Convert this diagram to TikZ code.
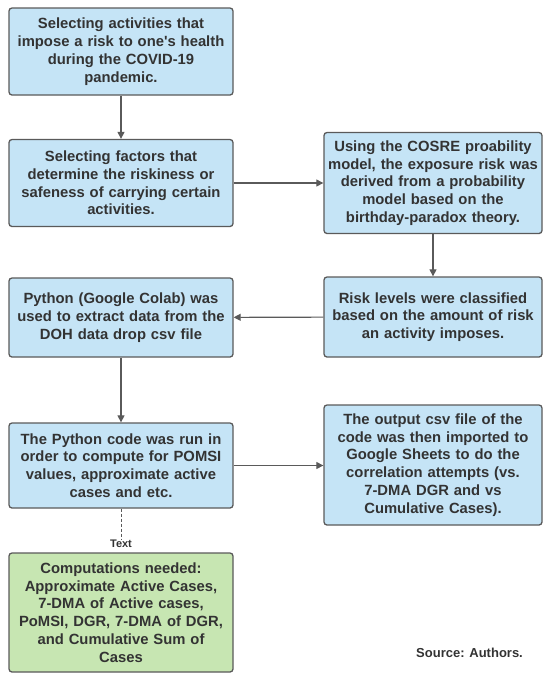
\documentclass[tikz,border=0pt]{standalone}
\usepackage{fontspec}
\setmainfont{Liberation Sans}
\usetikzlibrary{arrows.meta}
\definecolor{boxblue}{HTML}{C5E4F6}
\definecolor{boxgreen}{HTML}{C7E6B2}
\definecolor{edgegray}{HTML}{5A5A5A}
\definecolor{txtgray}{HTML}{333333}
\tikzset{
  flowbox/.style={draw=edgegray, line width=1.3pt, rounded corners=3pt, fill=boxblue,
    align=center, text=txtgray, inner sep=1pt,
    font=\fontsize{14.8pt}{17.8pt}\selectfont\bfseries},
  greenbox/.style={flowbox, fill=boxgreen},
  flowarrow/.style={draw=edgegray, line width=1.1pt, -{Triangle[length=7pt,width=7pt]}},
}
\begin{document}
\begin{tikzpicture}[x=1pt,y=-1pt]
\useasboundingbox (0,0) rectangle (545,673);
\node[flowbox, minimum width=224pt, minimum height=87pt, text width=220pt] (b1) at (121,51.5)
  {Selecting activities that\\impose a risk to one\textquotesingle s health\\during the COVID-19\\pandemic.};
\node[flowbox, minimum width=224pt, minimum height=87pt, text width=220pt] (b2) at (121,183)
  {Selecting factors that\\determine the riskiness or\\safeness of carrying certain\\activities.};
\node[flowbox, minimum width=218pt, minimum height=101pt, text width=214pt] (b3) at (433,183)
  {Using the COSRE proability\\model, the exposure risk was\\derived from a probability\\model based on the\\birthday-paradox theory.};
\node[flowbox, minimum width=224pt, minimum height=79pt, text width=220pt] (b4) at (121,317.5)
  {Python (Google Colab) was\\used to extract data from the\\DOH data drop csv file};
\node[flowbox, minimum width=218pt, minimum height=80pt, text width=214pt] (b5) at (433,317)
  {Risk levels were classified\\based on the amount of risk\\an activity imposes.};
\node[flowbox, minimum width=224pt, minimum height=85pt, text width=220pt] (b6) at (121,465.5)
  {The Python code was run in\\order to compute for POMSI\\values, approximate active\\cases and etc.};
\node[flowbox, minimum width=218pt, minimum height=120pt, text width=214pt] (b7) at (433,465)
  {The output csv file of the\\code was then imported to\\Google Sheets to do the\\correlation attempts (vs.\\7-DMA DGR and vs\\Cumulative Cases).};
\node[greenbox, minimum width=224pt, minimum height=119pt, text width=220pt] (b8) at (121,612.5)
  {Computations needed:\\Approximate Active Cases,\\7-DMA of Active cases,\\PoMSI, DGR, 7-DMA of DGR,\\and Cumulative Sum of\\Cases};
\node[text=txtgray, font=\fontsize{11pt}{12pt}\selectfont\bfseries, inner sep=1pt] (lbl) at (121,544) {Text};
\node[text=txtgray, font=\fontsize{13pt}{15pt}\selectfont\bfseries, anchor=west, inner sep=0pt] (src) at (416,653) {Source: Authors.};
\draw[flowarrow] (b1) -- (b2);
\draw[flowarrow] (b2) -- (b3);
\draw[flowarrow] (b3) -- (b5);
\draw[flowarrow] (b5) -- (b4);
\draw[flowarrow] (b4) -- (b6);
\draw[flowarrow] (b6.east) -- (b7.west |- b6.east);
\draw[edgegray, line width=1pt, dash pattern=on 3pt off 2pt] (b6.south) -- (lbl.north);
\end{tikzpicture}
\end{document}
